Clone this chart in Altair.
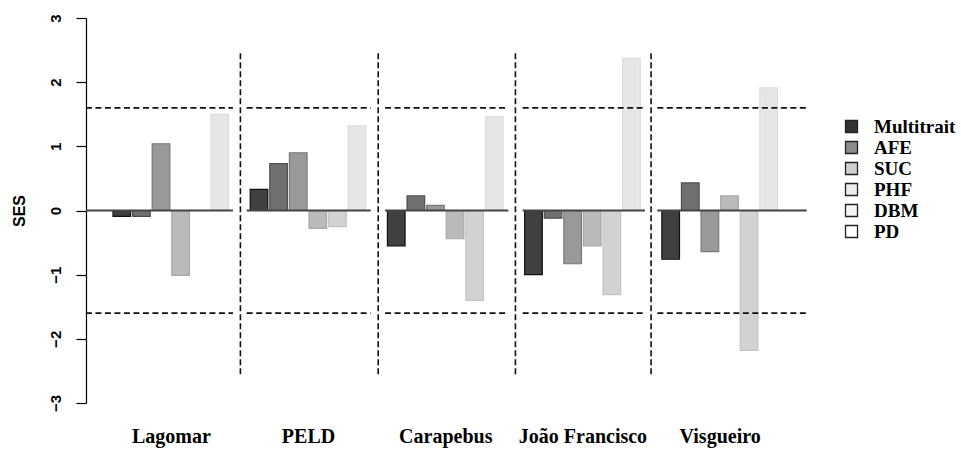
import json

import altair as alt
import pandas as pd

# Sites (groups) and the SES metrics shown in each group
sites = ["Lagomar", "PELD", "Carapebus", "João Francisco", "Visgueiro"]
metrics = ["Multitrait", "AFE", "SUC", "PHF", "DBM", "PD"]

# Standardized effect sizes, one list per metric, in site order
ses_multitrait = [-0.09, 0.33, -0.55, -1.00, -0.76]
ses_afe = [-0.09, 0.73, 0.23, -0.12, 0.43]
ses_suc = [1.04, 0.90, 0.08, -0.83, -0.64]
ses_phf = [-1.01, -0.28, -0.44, -0.55, 0.23]
ses_dbm = [0.00, -0.25, -1.40, -1.31, -2.18]
ses_pd = [1.50, 1.32, 1.46, 2.37, 1.91]

# Significance thresholds and y ticks
critical = [1.6, -1.6]
y_ticks = [-3, -2, -1, 0, 1, 2, 3]

# Reference segments per site (in bar-slot units) and the vertical separators
seg_left = [-0.33, 7.87, 14.93, 21.95, 28.82]
seg_right = [7.17, 14.20, 21.22, 28.19, 36.44]
divider_x = [7.55, 14.58, 21.58, 28.50]
divider_span = [2.45, -2.55]

# Grey shades
bar_fill = ["#404040", "#707070", "#999999", "#bababa", "#d2d2d2", "#e6e6e6"]
bar_stroke = ["#111111", "#4f4f4f", "#7a7a7a", "#a8a8a8", "#c4c4c4", "#dcdcdc"]
legend_fill = ["#333333", "#8c8c8c", "#cfcfcf", "#ececec", "#f5f5f5", "#ffffff"]

series = [ses_multitrait, ses_afe, ses_suc, ses_phf, ses_dbm, ses_pd]
slots = len(metrics) + 1  # bars per group plus one gap slot

rows = []
for g, site in enumerate(sites):
    for s, metric in enumerate(metrics):
        start = g * slots + 1 + s
        rows.append({
            "site": site,
            "metric": metric,
            "ses": series[s][g],
            "base": 0.0,
            "x0": start + 0.05,
            "x1": start + 0.95,
        })
bars = pd.DataFrame(rows)

segs = pd.DataFrame({"site": sites, "left": seg_left, "right": seg_right, "zero": 0.0})
thr = pd.DataFrame([
    {"left": l, "right": r, "level": c}
    for l, r in zip(seg_left, seg_right) for c in critical
])
divs = pd.DataFrame({"x": divider_x, "top": divider_span[0], "bottom": divider_span[1]})

group_centers = [g * slots + 4 for g in range(len(sites))]
label_expr = f"{json.dumps(sites, ensure_ascii=False)}[round((datum.value - 4) / {slots})]"

x_scale = alt.Scale(domain=[-0.327, 36.71], nice=False, zero=False)
y_scale = alt.Scale(domain=[-3, 3], nice=False)

x_axis = alt.Axis(
    values=group_centers, labelExpr=label_expr, title=None, domain=False, ticks=False,
    grid=False, labelFont="Liberation Serif", labelFontSize=20, labelFontWeight="bold",
    labelColor="black", labelPadding=23, labelAngle=0, labelOverlap=False,
    labelBound=False, labelFlush=False,
)
y_axis = alt.Axis(
    values=y_ticks, title="SES", grid=False,
    titleFont="Liberation Sans", titleFontSize=16, titleFontWeight="bold", titleColor="black",
    titleAngle=270, titleBaseline="middle", titleAlign="center", titleX=-67, titleY=192.5,
    labelFont="Liberation Sans", labelFontSize=15, labelFontWeight="bold", labelColor="black",
    labelAngle=270, labelAlign="center", labelBaseline="middle", labelPadding=21,
    tickSize=10, tickColor="black", tickWidth=1.2, domainColor="black", domainWidth=1.2,
)


def X(field):
    return alt.X(field, type="quantitative", scale=x_scale, axis=x_axis)


def Y(field):
    return alt.Y(field, type="quantitative", scale=y_scale, axis=y_axis)


# Zero-height bars that only carry the legend swatches
legend_layer = alt.Chart(bars).mark_bar().encode(
    x=X("x0"), x2="x1", y=Y("base"), y2="base",
    color=alt.Color(
        "metric:N",
        scale=alt.Scale(domain=metrics, range=legend_fill),
        legend=alt.Legend(
            title=None, orient="none", legendX=756, legendY=99,
            symbolType="square", symbolSize=144, symbolStrokeColor="#222222",
            symbolStrokeWidth=1.3, symbolOpacity=1,
            labelFont="Liberation Serif", labelFontSize=19, labelFontWeight="bold",
            labelColor="black", labelOffset=13, rowPadding=1,
        ),
    ),
)

# One bar layer per metric, each with its own grey fill and outline
bar_layers = [
    alt.Chart(bars)
    .transform_filter(alt.datum.metric == m)
    .mark_bar(fill=bar_fill[i], stroke=bar_stroke[i], strokeWidth=1.2)
    .encode(x=X("x0"), x2="x1", y=Y("ses"), y2="base")
    for i, m in enumerate(metrics)
]

zero_layer = alt.Chart(segs).mark_rule(color="#444444", strokeWidth=1.8).encode(
    x=X("left"), x2="right", y=Y("zero"),
)

thr_layer = alt.Chart(thr).mark_rule(color="#111111", strokeWidth=1.6, strokeDash=[6, 3.5]).encode(
    x=X("left"), x2="right", y=Y("level"),
)

div_layer = alt.Chart(divs).mark_rule(color="#111111", strokeWidth=1.6, strokeDash=[6, 3]).encode(
    x=X("x"), y=Y("top"), y2="bottom",
)

chart = alt.layer(
    legend_layer, *bar_layers, zero_layer, thr_layer, div_layer
).properties(
    width=726,
    height=385,
    padding={"left": 86, "top": 18, "right": 149, "bottom": 47},
    autosize=alt.AutoSizeParams(type="none"),
    background="white",
).configure_view(stroke=None)

chart.save("out.html", embed_options={"renderer": "svg", "actions": False})
